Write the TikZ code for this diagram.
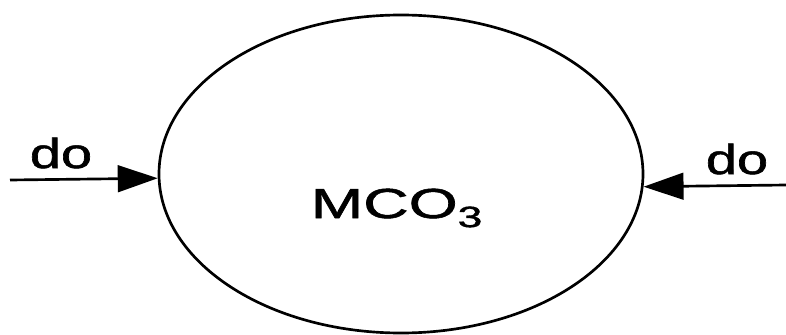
\documentclass[tikz,border=0pt]{standalone}
\usepackage{fontspec}
\setmainfont{Liberation Sans}
\newfontfamily\heavysans[FakeBold=1.2]{Liberation Sans}
\usetikzlibrary{shapes.geometric,arrows.meta}

\begin{document}
\begin{tikzpicture}[x=0.75pt,y=-0.75pt,
        pool/.style={ellipse,draw,line width=2pt,minimum width=363pt,minimum height=238.5pt,inner sep=0pt},
        flow/.style={line width=2pt,-{Triangle[length=30pt,width=20pt]}},
        lbl/.style={inner sep=0pt,anchor=base,font=\heavysans\fontsize{31.5}{32}\selectfont}]
        \useasboundingbox (0,0) rectangle (786,335);
        \node[pool] (carb) at (401,174) {};
        \node[lbl] (name) at (397,218) {\scalebox{1.5}[1]{MCO\textsubscript{3}}};
        % inflows from both sides
        \coordinate (inL) at (10,180);
        \coordinate (inR) at (786,185);
        \draw[flow] (inL) -- (carb.181.5);
        \draw[flow] (inR) -- (carb.357.4);
        \node[lbl] (doL) at (61,168) {\scalebox{1.33}[1]{do}};
        \node[lbl] (doR) at (737,174) {\scalebox{1.33}[1]{do}};
    \end{tikzpicture}
\end{document}
